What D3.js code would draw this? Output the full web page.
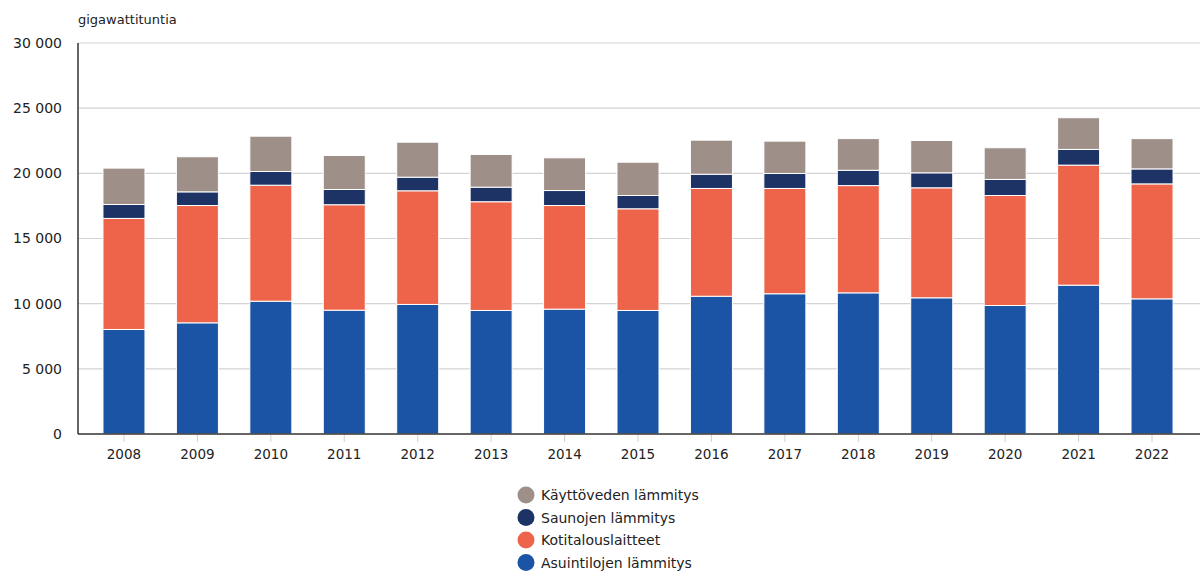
<!DOCTYPE html>
<html>
<head>
  <meta charset="utf-8">
  <title>Kotitalouksien sähkönkulutus</title>
  <script src="https://d3js.org/d3.v7.min.js"></script>
  <style>
    body { margin: 0; background: #fff; }
    text { font-family: "DejaVu Sans", Verdana, sans-serif; fill: #222; }
  </style>
</head>
<body>
  <div id="chart"></div>

  <script>
    // Data (GWh)
    var years = ["2008", "2009", "2010", "2011", "2012", "2013", "2014", "2015",
                 "2016", "2017", "2018", "2019", "2020", "2021", "2022"];
    var asuintilat = [8020, 8530, 10190, 9500, 9940, 9480, 9580, 9480, 10570, 10760, 10830, 10450, 9860, 11420, 10370];
    var kotitalouslaitteet = [8520, 9000, 8900, 8090, 8720, 8340, 7950, 7800, 8270, 8080, 8230, 8440, 8440, 9210, 8820];
    var saunat = [1070, 1050, 1050, 1170, 1045, 1120, 1150, 1020, 1090, 1150, 1175, 1150, 1230, 1205, 1150];
    var kayttovesi = [2790, 2690, 2710, 2610, 2685, 2510, 2510, 2555, 2615, 2480, 2430, 2480, 2430, 2430, 2320];
    var yTicks = [0, 5000, 10000, 15000, 20000, 25000, 30000];

    var seriesNames = ["Asuintilojen lämmitys", "Kotitalouslaitteet", "Saunojen lämmitys", "Käyttöveden lämmitys"];
    var colors = ["#1b54a5", "#ee644b", "#1d3366", "#9e8f89"];

    var width = 1200, height = 581;
    var margin = { top: 43, right: 2, bottom: 147, left: 78 };

    var rows = years.map(function(y, i) {
      return {
        year: y,
        a: asuintilat[i], k: kotitalouslaitteet[i], s: saunat[i], v: kayttovesi[i]
      };
    });
    var stack = d3.stack().keys(["a", "k", "s", "v"]);
    var layers = stack(rows);

    var x = d3.scaleBand().domain(years)
      .range([margin.left, width - margin.right])
      .paddingInner(0.428).paddingOuter(0.34);
    var y = d3.scaleLinear().domain([0, 30000]).range([height - margin.bottom, margin.top]);

    var svg = d3.select("#chart").append("svg")
      .attr("width", width).attr("height", height);

    var fmt = function(d) { return d3.format(",")(d).replace(/,/g, " "); };

    // gridlines
    svg.append("g").selectAll("line").data(yTicks.slice(1)).enter().append("line")
      .attr("x1", margin.left).attr("x2", width)
      .attr("y1", function(d) { return y(d); }).attr("y2", function(d) { return y(d); })
      .attr("stroke", "#d3d3d3").attr("stroke-width", 1.2);

    // y labels
    svg.append("g").selectAll("text").data(yTicks).enter().append("text")
      .attr("x", 62).attr("y", function(d) { return y(d); })
      .attr("dy", "0.35em").attr("text-anchor", "end")
      .style("font-size", "14px")
      .text(fmt);

    svg.append("text").attr("x", 78).attr("y", 24)
      .style("font-size", "13px").text("gigawattituntia");

    // x tick marks and labels
    var xg = svg.append("g");
    xg.selectAll("line").data(years).enter().append("line")
      .attr("x1", function(d) { return x(d) + x.bandwidth() / 2; })
      .attr("x2", function(d) { return x(d) + x.bandwidth() / 2; })
      .attr("y1", y(0)).attr("y2", y(0) + 8)
      .attr("stroke", "#d0d0d0");
    xg.selectAll("text").data(years).enter().append("text")
      .attr("x", function(d) { return x(d) + x.bandwidth() / 2; })
      .attr("y", y(0) + 20).attr("dy", "0.35em")
      .attr("text-anchor", "middle").style("font-size", "13.5px")
      .text(function(d) { return d; });

    // bars
    svg.append("g").selectAll("g").data(layers).enter().append("g")
      .attr("fill", function(d, i) { return colors[i]; })
      .selectAll("rect").data(function(d) { return d; }).enter().append("rect")
      .attr("x", function(d) { return x(d.data.year); })
      .attr("width", x.bandwidth())
      .attr("y", function(d) { return y(d[1]); })
      .attr("height", function(d) { return y(d[0]) - y(d[1]); })
      .attr("stroke", "#fff").attr("stroke-width", 1);

    // axes lines
    svg.append("line").attr("x1", margin.left).attr("x2", margin.left)
      .attr("y1", y(30000)).attr("y2", y(0))
      .attr("stroke", "#333").attr("stroke-width", 1.5);
    svg.append("line").attr("x1", margin.left).attr("x2", width)
      .attr("y1", y(0)).attr("y2", y(0))
      .attr("stroke", "#333").attr("stroke-width", 1.5);

    // legend (top series first)
    var legendOrder = [3, 2, 1, 0];
    var lg = svg.append("g").selectAll("g").data(legendOrder).enter().append("g")
      .attr("transform", function(d, i) { return "translate(526," + (495 + i * 22.5) + ")"; });
    lg.append("circle").attr("r", 8.5).attr("fill", function(d) { return colors[d]; });
    lg.append("text").attr("x", 15).attr("dy", "0.38em")
      .style("font-size", "14px")
      .text(function(d) { return seriesNames[d]; });
  </script>
</body>
</html>
